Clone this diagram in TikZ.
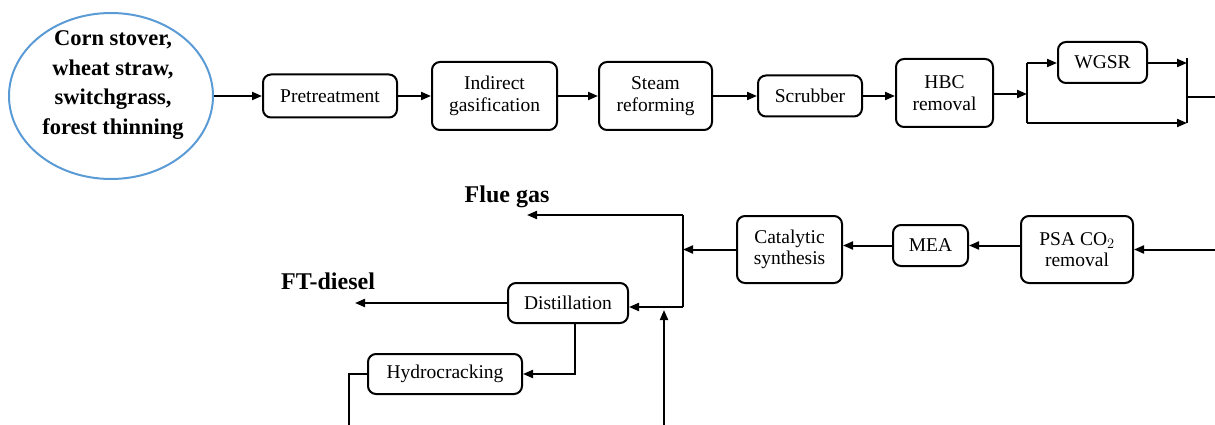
\documentclass[tikz,border=0pt]{standalone}
\usepackage{fontspec}
\setmainfont{Liberation Serif}
\usetikzlibrary{arrows.meta,shapes.geometric}
\begin{document}
\begin{tikzpicture}[x=1pt,y=-1pt,
 proc/.style={draw, line width=2pt, rounded corners=8pt, align=center,
   font=\fontsize{19.5}{21.5}\selectfont, inner sep=0pt},
 flow/.style={line width=2pt, -{Triangle[length=10pt,width=8pt]}},
 plain/.style={line width=2pt},
 lab/.style={font=\fontsize{24}{26}\selectfont\bfseries},
 ]
\useasboundingbox (0,0) rectangle (1215,425);
\clip (0,0) rectangle (1215,425);
% source
\node[ellipse, draw={rgb,255:red,91;green,155;blue,213}, line width=2pt,
  minimum width=204, minimum height=166, inner sep=0pt] (src) at (111,96) {};
\node[align=center, font=\fontsize{22.5}{29.5}\selectfont\bfseries] (srct) at (113,85)
  {Corn stover,\\wheat straw,\\switchgrass,\\forest thinning};
% top row
\node[proc, minimum width=134, minimum height=43] (pre) at (330,96) {Pretreatment};
\node[proc, minimum width=125, minimum height=68] (ind) at (494.5,96) {Indirect\\gasification};
\node[proc, minimum width=113, minimum height=68] (ste) at (655.5,96) {Steam\\reforming};
\node[proc, minimum width=104, minimum height=41] (scr) at (810,96) {Scrubber};
\node[proc, minimum width=97, minimum height=68] (hbc) at (944.5,93) {HBC\\removal};
\node[proc, minimum width=89, minimum height=41] (wgsr) at (1102.5,62.5) {WGSR};
% bottom row
\node[proc, minimum width=112, minimum height=67] (psa) at (1077,249.5) {PSA CO$_2$\\removal};
\node[proc, minimum width=75, minimum height=41] (mea) at (930.5,245.5) {MEA};
\node[proc, minimum width=105, minimum height=67] (cat) at (789.5,249.5) {Catalytic\\synthesis};
\node[proc, minimum width=120, minimum height=40] (dist) at (568,303) {Distillation};
\node[proc, minimum width=154, minimum height=40] (hyd) at (445,374) {Hydrocracking};
\node[lab] (flue) at (507,197) {Flue gas};
\node[lab] (ftd) at (328,281) {FT-diesel};
% coordinates
\coordinate (bx) at (1027,94);
\coordinate (bt) at (1027,63);
\coordinate (bb) at (1027,123);
\coordinate (mt) at (1187,58);
\coordinate (mb) at (1187,123);
\coordinate (mo) at (1187,97);
\coordinate (vt) at (683,215);
\coordinate (vb) at (683,307);
\coordinate (fgend) at (527,215);
\coordinate (ftend) at (355,303);
\coordinate (rb) at (664,310);
% top connectors
\draw[flow] (src.east) -- (pre.west);
\draw[flow] (pre.east) -- (ind.west);
\draw[flow] (ind.east) -- (ste.west);
\draw[flow] (ste.east) -- (scr.west);
\draw[flow] (scr.east) -- (scr.east -| hbc.west);
\draw[flow] (hbc.east |- bx) -- (bx);
\draw[plain] (bt) -- (bb);
\draw[flow] (bt) -- (bt -| wgsr.west);
\draw[flow] (wgsr.east |- bt) -- (bt -| mt);
\draw[flow] (bb) -- (mb);
\draw[plain] (mt) -- (mb);
\draw[flow] (mo) -- ++(45,0) |- (psa.east);
% bottom connectors
\draw[flow] (mea.east -| psa.west) -- (mea.east);
\draw[flow] (mea.west) -- (mea.west -| cat.east);
\draw[flow] (cat.west) -- (cat.west -| vt);
\draw[plain] (vt) -- (vb);
\draw[flow] (vt) -- (fgend);
\draw[flow] (vb) -- (vb -| dist.east);
\draw[flow] (dist.west) -- (ftend);
\draw[flow] ([xshift=7pt]dist.south) |- (hyd.east);
\draw[flow] (hyd.west) -- ++(-18,0) -- ++(0,60) -| (rb);
\end{tikzpicture}
\end{document}
